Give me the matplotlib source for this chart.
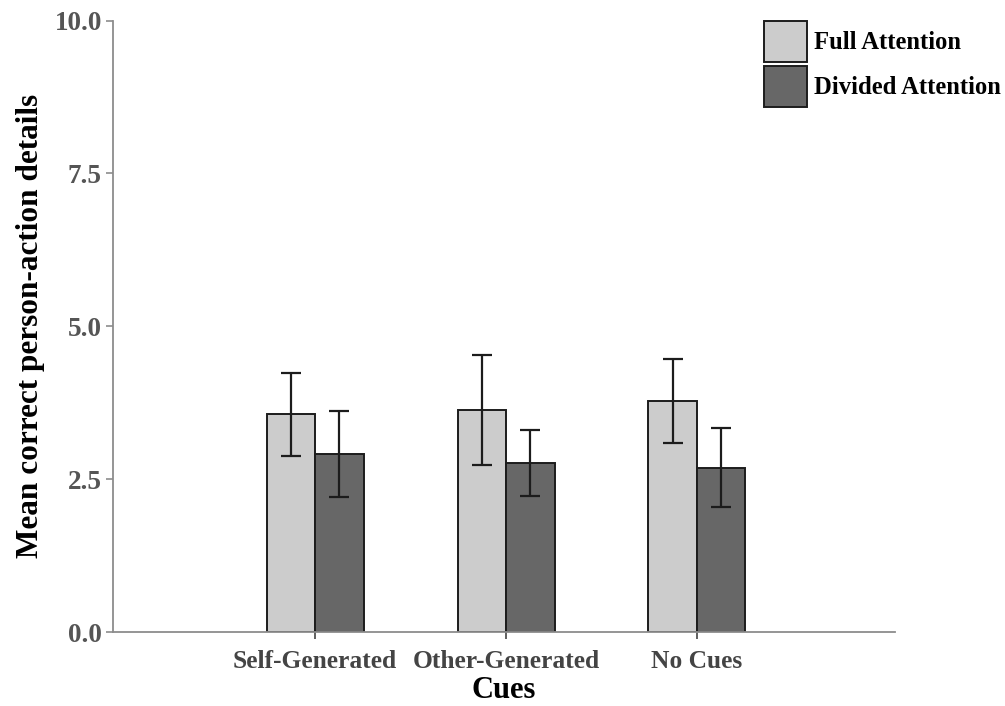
import numpy as np
import matplotlib.pyplot as plt
from matplotlib.patches import Patch

# values
cues = ["Self-Generated", "Other-Generated", "No Cues"]
full_mean = [3.56, 3.63, 3.78]
full_err = [0.68, 0.90, 0.69]
div_mean = [2.91, 2.77, 2.69]
div_err = [0.70, 0.54, 0.65]

plt.rcParams["font.family"] = ["Liberation Serif", "DejaVu Serif"]
plt.rcParams["font.weight"] = "bold"

fig = plt.figure(figsize=(10.05, 7.06), dpi=100)
ax = fig.add_axes([113 / 1005, 1 - 632 / 706, (895 - 113) / 1005, (632 - 20.5) / 706])

x = np.arange(len(cues))
w = 0.254
full_col = "#cccccc"
div_col = "#676767"
edge = "#1c1c1c"

ax.bar(x - w / 2, full_mean, w, color=full_col, edgecolor=edge, linewidth=1.4, zorder=2)
ax.bar(x + w / 2, div_mean, w, color=div_col, edgecolor=edge, linewidth=1.4, zorder=2)
ax.errorbar(x - w / 2, full_mean, yerr=full_err, fmt="none", ecolor=edge,
            elinewidth=1.6, capsize=7, capthick=1.6, zorder=3)
ax.errorbar(x + w / 2, div_mean, yerr=div_err, fmt="none", ecolor=edge,
            elinewidth=1.6, capsize=7, capthick=1.6, zorder=3)

ax.set_xlim(-1.058, 3.037)
ax.set_ylim(0, 10)
ax.set_yticks([0, 2.5, 5, 7.5, 10])
ax.set_yticklabels(["0.0", "2.5", "5.0", "7.5", "10.0"])
ax.set_xticks(x)
ax.set_xticklabels(cues)

for s in ["top", "right"]:
    ax.spines[s].set_visible(False)
for s in ["left", "bottom"]:
    ax.spines[s].set_color("#8c8c8c")
    ax.spines[s].set_linewidth(1.3)

ax.tick_params(axis="y", colors="#8c8c8c", labelcolor="#555555", labelsize=19.5,
               length=5, width=1.2, pad=3)
ax.tick_params(axis="x", colors="#444444", labelcolor="#444444", labelsize=18.4,
               length=5, width=1.2, pad=8)
for lab in ax.get_yticklabels() + ax.get_xticklabels():
    lab.set_fontweight("bold")

ax.set_xlabel("Cues", fontsize=22, fontweight="bold", labelpad=2)
ax.set_ylabel("Mean correct person-action details", fontsize=22.5, fontweight="bold", labelpad=7)

handles = [Patch(facecolor=full_col, edgecolor=edge, linewidth=1.4),
           Patch(facecolor=div_col, edgecolor=edge, linewidth=1.4)]
fig.legend(handles, ["Full Attention", "Divided Attention"], loc="upper left",
           bbox_to_anchor=(764 / 1005, 1 - 21 / 706), borderaxespad=0, borderpad=0,
           frameon=False, handlelength=1.75, handleheight=2.18, labelspacing=0.16,
           handletextpad=0.28, prop={"size": 17.7, "weight": "bold"})

fig.savefig("out.png", dpi=100)
